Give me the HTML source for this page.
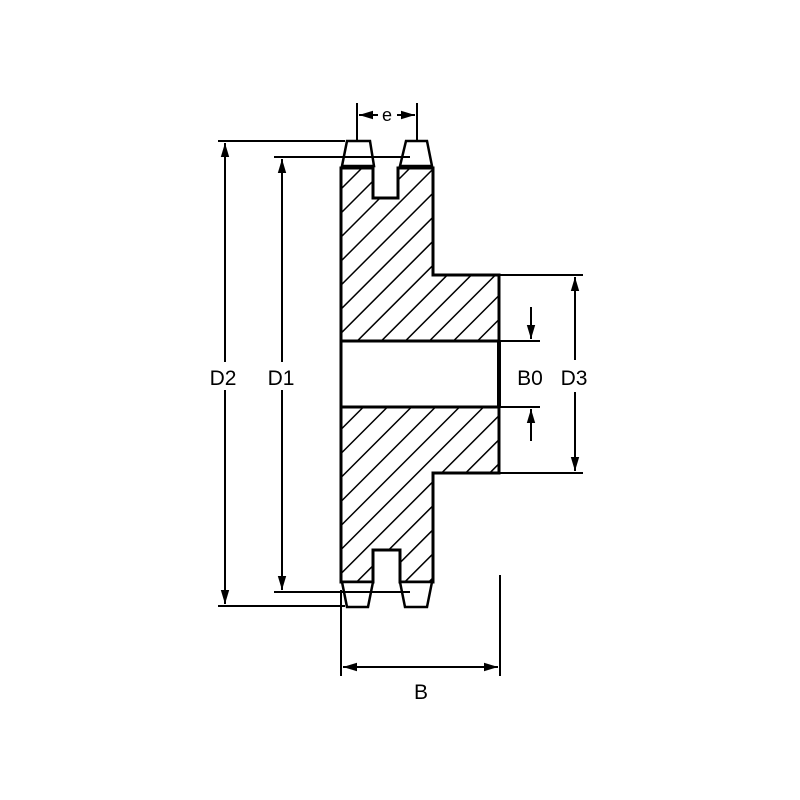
<!DOCTYPE html>
<html><head><style>body{margin:0;background:#fff}svg{display:block}</style></head><body>
<svg width="800" height="800" viewBox="0 0 800 800" xmlns="http://www.w3.org/2000/svg">
<defs>
<pattern id="h" patternUnits="userSpaceOnUse" width="17" height="17" patternTransform="rotate(45)">
<line x1="0" y1="0" x2="0" y2="17" stroke="#000" stroke-width="3"/>
</pattern>
<marker id="a" viewBox="0 0 10 10" refX="10" refY="5" markerWidth="7" markerHeight="7" orient="auto-start-reverse"><path d="M0,2 L10,5 L0,8 z" fill="#000"/></marker>
</defs>
<g stroke="#000" fill="none" stroke-width="2">
<path d="M341,168 H373 V198 H398 V168 H433 V275 H499 V341 H341 Z" fill="url(#h)" stroke-width="3"/>
<path d="M341,407 H499 V473 H433 V582 H400 V550 H373 V582 H341 Z" fill="url(#h)" stroke-width="3"/>
<line x1="499" y1="341" x2="499" y2="407" stroke-width="4"/>
<line x1="341" y1="341" x2="341" y2="407" stroke-width="3"/>
<path d="M342,166 L347,141 H370 L374,166 Z" fill="#fff" stroke-width="2.5"/>
<path d="M400,166 L406,141 H427 L432,166 Z" fill="#fff" stroke-width="2.5"/>
<path d="M342,582 L347,607 H368 L373,582 Z" fill="#fff" stroke-width="2.5"/>
<path d="M400,582 L405,607 H427 L432,582 Z" fill="#fff" stroke-width="2.5"/>
<line x1="218" y1="141" x2="345" y2="141"/>
<line x1="218" y1="606" x2="345" y2="606"/>
<line x1="225" y1="143" x2="225" y2="604" marker-start="url(#a)" marker-end="url(#a)"/>
<line x1="274" y1="157" x2="410" y2="157"/>
<line x1="274" y1="592" x2="410" y2="592"/>
<line x1="282" y1="159" x2="282" y2="590" marker-start="url(#a)" marker-end="url(#a)"/>
<line x1="357" y1="103" x2="357" y2="141"/>
<line x1="417" y1="103" x2="417" y2="141"/>
<line x1="359" y1="115" x2="378" y2="115" marker-start="url(#a)"/>
<line x1="397" y1="115" x2="415" y2="115" marker-end="url(#a)"/>
<line x1="341" y1="590" x2="341" y2="676"/>
<line x1="500" y1="575" x2="500" y2="676"/>
<line x1="343" y1="667" x2="498" y2="667" marker-start="url(#a)" marker-end="url(#a)"/>
<line x1="499" y1="341" x2="540" y2="341"/>
<line x1="499" y1="407" x2="540" y2="407"/>
<line x1="531" y1="307" x2="531" y2="339" marker-end="url(#a)"/>
<line x1="531" y1="441" x2="531" y2="409" marker-end="url(#a)"/>
<line x1="499" y1="275" x2="583" y2="275"/>
<line x1="499" y1="473" x2="583" y2="473"/>
<line x1="575" y1="277" x2="575" y2="360" marker-start="url(#a)"/>
<line x1="575" y1="392" x2="575" y2="471" marker-end="url(#a)"/>
</g>
<g font-family="Liberation Sans, sans-serif" font-size="21" fill="#000" text-anchor="middle">
<rect x="208" y="362" width="30" height="28" fill="#fff"/>
<rect x="266" y="362" width="30" height="28" fill="#fff"/>
<text x="223" y="385">D2</text>
<text x="281" y="385">D1</text>
<text x="530" y="385">B0</text>
<text x="574" y="385">D3</text>
<text x="387" y="121" font-size="18">e</text>
<text x="421" y="699">B</text>
</g>
</svg>
</body></html>
